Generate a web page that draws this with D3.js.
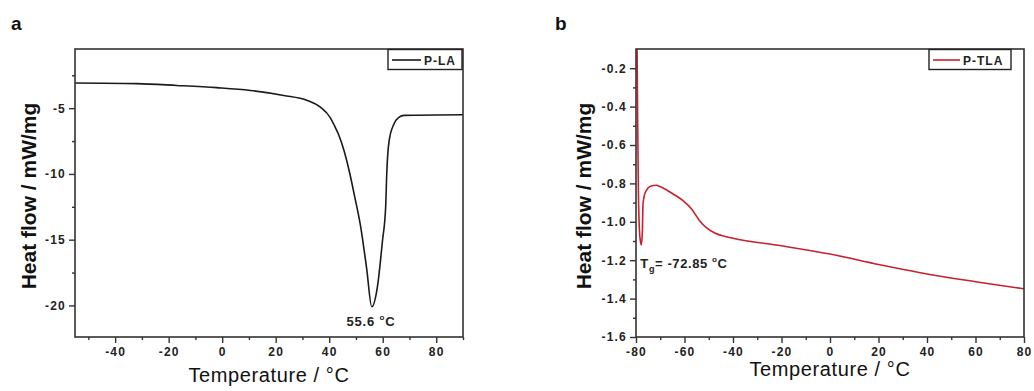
<!DOCTYPE html>
<html>
<head>
<meta charset="utf-8">
<script src="https://cdn.jsdelivr.net/npm/d3@7"></script>
<style>
  body { margin: 0; background: #fff; }
  svg { display: block; font-family: "Liberation Sans", Arial, sans-serif; }
</style>
</head>
<body>
<div id="chart"></div>
<script>
// panel a : P-LA
var aTemp = [-55, -32, -17, -2, 10.5, 23, 31.8, 36.7, 40.5, 42, 43.5, 45.5, 47.5, 49.5, 51.75, 54, 55.9, 58.0, 59.9, 61.1, 61.5, 62.4, 64.2, 66, 68, 90];
var aHeat = [-3.08, -3.13, -3.27, -3.44, -3.65, -4.03, -4.41, -4.92, -5.75, -6.35, -7.0, -8.2, -9.8, -11.7, -14.0, -17.2, -20.1, -18.6, -15.1, -12.5, -10, -7.47, -6.2, -5.7, -5.55, -5.5];
var aXTicks = [-40, -20, 0, 20, 40, 60, 80];
var aYTicks = [-20, -15, -10, -5];

// panel b : P-TLA
var bTemp = [-79.6, -79.3, -79.0, -78.6, -78.2, -77.8, -77.4, -77.1, -76.5, -75.7, -74, -71.6, -70.2, -67.5, -64.7, -60.6, -57, -54, -51, -47.5, -44, -40, -20, 0, 20, 40, 60, 80];
var bHeat = [-0.02, -0.5, -0.85, -1.04, -1.1, -1.12, -1.06, -0.905, -0.86, -0.836, -0.815, -0.81, -0.816, -0.833, -0.855, -0.89, -0.935, -0.99, -1.03, -1.058, -1.074, -1.086, -1.125, -1.168, -1.222, -1.272, -1.312, -1.349];
var bXTicks = [-80, -60, -40, -20, 0, 20, 40, 60, 80];
var bYTicks = [-1.6, -1.4, -1.2, -1.0, -0.8, -0.6, -0.4, -0.2];

var svg = d3.select('#chart')
    .append('svg')
    .attr('width', 1034)
    .attr('height', 391);

// style axis groups made by d3
function styleAxis(sel) {
    sel.select('.domain').remove();
    sel.attr('font-family', '"Liberation Sans", Arial, sans-serif');
    sel.selectAll('.tick line').attr('stroke', '#333').attr('stroke-width', 1.4);
    sel.selectAll('.tick text')
        .attr('font-size', 12)
        .attr('font-weight', 'bold')
        .attr('letter-spacing', 1.2)
        .attr('fill', '#222');
}

function drawPanel(p) {
    var x = d3.scaleLinear().domain(p.xDomain).range([p.left, p.right]);
    var y = d3.scaleLinear().domain(p.yDomain).range([p.bottom, p.top]);
    var g = svg.append('g');

    g.append('clipPath').attr('id', 'clip-' + p.id)
        .append('rect')
        .attr('x', p.left).attr('y', p.top)
        .attr('width', p.right - p.left).attr('height', p.bottom - p.top);

    // minor ticks
    g.append('g').attr('transform', 'translate(0,' + p.bottom + ')')
        .call(d3.axisBottom(x).tickValues(p.xMinor).tickSize(3).tickFormat(''))
        .call(styleAxis);
    g.append('g').attr('transform', 'translate(' + p.left + ',0)')
        .call(d3.axisLeft(y).tickValues(p.yMinor).tickSize(3).tickFormat(''))
        .call(styleAxis);

    // major ticks
    g.append('g').attr('transform', 'translate(0,' + p.bottom + ')')
        .call(d3.axisBottom(x).tickValues(p.xTicks).tickSize(6).tickPadding(4)
            .tickFormat(function(d){ return String(d); }))
        .call(styleAxis);
    g.append('g').attr('transform', 'translate(' + p.left + ',0)')
        .call(d3.axisLeft(y).tickValues(p.yTicks).tickSize(6).tickPadding(3)
            .tickFormat(p.yFormat))
        .call(styleAxis);

    var line = d3.line()
        .x(function(d){ return x(d[0]); })
        .y(function(d){ return y(d[1]); })
        .curve(d3.curveMonotoneX);

    g.append('path')
        .datum(d3.zip(p.temp, p.heat))
        .attr('clip-path', 'url(#clip-' + p.id + ')')
        .attr('d', line)
        .attr('fill', 'none')
        .attr('stroke', p.color)
        .attr('stroke-width', 1.6);

    // frame
    g.append('rect')
        .attr('x', p.left).attr('y', p.top)
        .attr('width', p.right - p.left).attr('height', p.bottom - p.top)
        .attr('fill', 'none').attr('stroke', '#333').attr('stroke-width', 1.6);

    // legend
    g.append('rect')
        .attr('x', p.legX).attr('y', p.top + 0.5)
        .attr('width', p.legW).attr('height', 20)
        .attr('fill', '#fff').attr('stroke', '#222').attr('stroke-width', 1.4);
    g.append('line')
        .attr('x1', p.legX + 4).attr('x2', p.legX + p.legLine)
        .attr('y1', p.top + 11).attr('y2', p.top + 11)
        .attr('stroke', p.color).attr('stroke-width', 1.6);
    g.append('text')
        .attr('x', p.legX + p.legLine + 3).attr('y', p.top + 16)
        .attr('font-size', 12).attr('font-weight', 'bold').attr('letter-spacing', 1)
        .attr('fill', '#222')
        .text(p.name);

    // axis titles
    g.append('text')
        .attr('transform', 'translate(' + p.yLabX + ',' + ((p.top + p.bottom) / 2 + 3) + ') rotate(-90)')
        .attr('text-anchor', 'middle')
        .attr('font-size', 21).attr('font-weight', 'bold').attr('fill', '#111')
        .text('Heat flow / mW/mg');
    g.append('text')
        .attr('x', (p.left + p.right) / 2).attr('y', p.xLabY)
        .attr('text-anchor', 'middle')
        .attr('font-size', 20).attr('letter-spacing', 0.6).attr('fill', '#111')
        .text('Temperature / °C');

    // panel letter
    g.append('text')
        .attr('x', p.letterX).attr('y', 30)
        .attr('font-size', 19).attr('font-weight', 'bold').attr('fill', '#111')
        .text(p.id);

    return { x: x, y: y, g: g };
}

var pa = drawPanel({
    id: 'a', name: 'P-LA', color: '#1a1a1a',
    left: 75, right: 463, top: 49, bottom: 337,
    xDomain: [-55, 90], yDomain: [-22.4, -0.5],
    xTicks: aXTicks, xMinor: [-50, -30, -10, 10, 30, 50, 70, 90],
    yTicks: aYTicks, yMinor: [-17.5, -12.5, -7.5, -2.5],
    yFormat: function(d){ return String(d); },
    temp: aTemp, heat: aHeat,
    legX: 388, legW: 74, legLine: 33,
    yLabX: 36, xLabY: 382, letterX: 11
});

var pb = drawPanel({
    id: 'b', name: 'P-TLA', color: '#c8202c',
    left: 636, right: 1024, top: 49, bottom: 337,
    xDomain: [-80, 80], yDomain: [-1.6, -0.1],
    xTicks: bXTicks, xMinor: [-70, -50, -30, -10, 10, 30, 50, 70],
    yTicks: bYTicks, yMinor: [-1.5, -1.3, -1.1, -0.9, -0.7, -0.5, -0.3],
    yFormat: function(d){ return d.toFixed(1); },
    temp: bTemp, heat: bHeat,
    legX: 929, legW: 82, legLine: 31,
    yLabX: 591, xLabY: 376, letterX: 555
});

// annotations
var ta = pa.g.append('text')
    .attr('x', pa.x(55.6)).attr('y', 326)
    .attr('text-anchor', 'middle')
    .attr('font-size', 13).attr('font-weight', 'bold').attr('letter-spacing', 0.8)
    .attr('fill', '#222');
ta.append('tspan').text('55.6 ');
ta.append('tspan').attr('dy', -6).attr('font-size', 8).text('o');
ta.append('tspan').attr('dy', 6).text('C');

var tb = pb.g.append('text')
    .attr('x', pb.x(-78.2)).attr('y', 268)
    .attr('font-size', 13).attr('font-weight', 'bold').attr('letter-spacing', 0.6)
    .attr('fill', '#222');
tb.append('tspan').text('T');
tb.append('tspan').attr('dy', 4).attr('font-size', 9).text('g');
tb.append('tspan').attr('dy', -4).text('=  -72.85 ');
tb.append('tspan').attr('dy', -6).attr('font-size', 8).text('o');
tb.append('tspan').attr('dy', 6).text('C');
</script>
</body>
</html>
